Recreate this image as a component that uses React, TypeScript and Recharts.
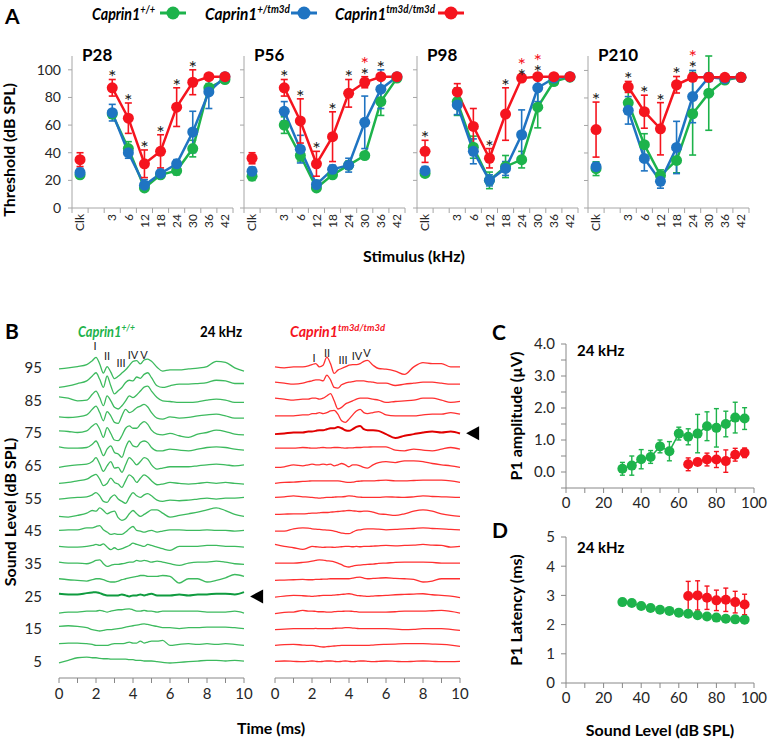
import React from "react";
import { LineChart, Line, XAxis, YAxis, ErrorBar, LabelList, ReferenceDot } from "recharts";

const FONT = "Lato, 'Open Sans', sans-serif";
const GREEN = "#1db34b";
const BLUE = "#1f74c2";
const RED = "#f5141e";
const AXIS = "#a6a6a6";
const INK = "#262626";

// ---------- A: ABR thresholds (dB SPL) ----------
const thrCats = ["Clk", "", "3", "6", "12", "18", "24", "30", "36", "42"];

const wtP28 = [24, null, 68, 43, 14.5, 24, 27, 43, 87, 93];
const wtP28E = [2, null, 3, 5, 2, 2, 3, 6, 3, 1];
const hetP28 = [25.7, null, 69, 40, 16.5, 25, 32, 55, 84, 95];
const hetP28E = [3, null, 6, 4, 4, 2, 3, 15, 12, 0];
const koP28 = [35, null, 87, 65, 32, 41, 73, 91, 95, 95];
const koP28E = [5, null, 6, 11, 10, 12, 14, 9, 0, 0];
const starsP28 = ["", "", "k", "k", "k", "k", "k", "k", "", ""];

const wtP56 = [23, null, 60, 38, 14.5, 24, 31, 38, 77, 94];
const wtP56E = [3, null, 6, 4, 2, 2, 3, 2, 10, 1];
const hetP56 = [26.6, null, 70, 42.6, 17, 28, 31, 62, 86, 95];
const hetP56E = [3, null, 7, 10, 3, 3, 5, 19, 14, 0];
const koP56 = [36, null, 87, 63, 32, 51.6, 83, 91, 95, 95];
const koP56E = [4, null, 6, 16, 9, 18, 10, 4, 0, 0];
const starsP56 = ["", "", "k", "k", "k", "k", "k", "kr", "k", ""];

const wtP98 = [25, null, 77, 44, 20, 30, 35, 73, 91.5, 94.7];
const wtP98E = [2, null, 10, 8, 6, 8, 6, 15, 2, 1];
const hetP98 = [27, null, 74.6, 41, 20, 28.6, 53, 87, 94, 95];
const hetP98E = [3, null, 7, 9, 4, 5, 18, 10, 2, 0];
const koP98 = [41, null, 84, 59, 36, 68, 94, 95, 95, 95];
const koP98E = [8, null, 6, 13, 7, 19, 0, 0, 0, 0];
const starsP98 = ["k", "", "", "", "k", "k", "kr", "kr", "", ""];

const wtP210 = [28.6, null, 76.5, 46, 23.7, 34.6, 68.5, 83.5, 93, 95];
const wtP210E = [5, null, 8, 8, 4, 9, 30, 27, 2, 0];
const hetP210 = [30, null, 71, 36, 19.4, 44, 81, 95, 94, 95];
const hetP210E = [3, null, 10, 9, 5, 19, 19, 3, 1, 0];
const koP210 = [57, null, 88, 70, 57.6, 89.6, 95, 95, 95, 95];
const koP210E = [20, null, 4, 12, 19, 6, 0, 0, 0, 0];
const starsP210 = ["k", "", "k", "k", "k", "k", "kr", "", "", ""];

const thrPanels = [
  { title: "P28", wt: wtP28, wtE: wtP28E, het: hetP28, hetE: hetP28E, ko: koP28, koE: koP28E, stars: starsP28 },
  { title: "P56", wt: wtP56, wtE: wtP56E, het: hetP56, hetE: hetP56E, ko: koP56, koE: koP56E, stars: starsP56 },
  { title: "P98", wt: wtP98, wtE: wtP98E, het: hetP98, hetE: hetP98E, ko: koP98, koE: koP98E, stars: starsP98 },
  { title: "P210", wt: wtP210, wtE: wtP210E, het: hetP210, hetE: hetP210E, ko: koP210, koE: koP210E, stars: starsP210 },
];
const thrAxisX = [72, 244, 417, 588];

// ---------- B: ABR waveforms at 24 kHz ----------
const waveTimes = [0, 0.5, 1, 1.5, 1.8, 2, 2.2, 2.4, 2.6, 2.8, 3, 3.2, 3.4, 3.6, 3.8, 4, 4.2, 4.4, 4.6, 4.8, 5, 5.3, 5.6, 6, 6.5, 7, 7.5, 8, 8.5, 9, 9.5, 10];
const waveLevels = [95, 90, 85, 80, 75, 70, 65, 60, 55, 50, 45, 40, 35, 30, 25, 20, 15, 10, 5];
const levelTicks = [5, 15, 25, 35, 45, 55, 65, 75, 85, 95];

const wtWaves = [
  [-0.3, 0, 0.4, 1.0, 2.2, 3.2, 1.2, -1.6, 0.4, -1.3, -3.3, -2.6, -1.6, -0.6, 0.7, 2.0, 2.2, 1.2, 2.4, 2.7, 2.0, 0.2, -1.0, -0.6, -0.6, -0.3, -0.1, 0.4, 2.0, 1.7, 0, -1.0],
  [-1.0, -0.5, 0.2, 1.0, 2.5, 3.5, 1.5, -1.0, 2.5, -0.5, -3.0, -2.0, -1.0, 0.5, 1.2, 1.0, 2.2, 1.8, 3.0, 3.5, 2.0, -0.5, -1.0, -0.5, 0, 0, 0.2, 0.5, 1.2, 1.0, 0.2, 0.2],
  [1.1, 0.7, -0.1, 0.1, 1.9, 2.9, 0.9, -1.6, 1.4, -0.1, -2.1, -2.6, -1.6, -0.1, 1.4, 0.9, 1.7, 2.9, 4.1, 4.4, 2.9, 0.9, -0.1, -0.3, -0.6, -0.6, -0.4, 0.1, 0.4, 0.1, -0.6, -0.6],
  [0, -0.2, 0, 0.6, 2.3, 3.3, 1.3, -1.2, 1.6, 0.3, -1.7, -2.0, 0.3, 2.3, 1.3, 1.8, 2.8, 3.3, 3.8, 3.0, 1.3, -0.4, -0.7, 0, -0.4, -0.2, 0.3, 0.6, 0.8, 0.3, -0.4, -0.4],
  [0.7, 0.5, 0.2, 0.7, 2.2, 2.9, 1.2, -1.3, 1.7, -0.1, -2.1, -2.3, -0.8, 1.5, 2.2, 1.5, 1.5, 2.7, 3.5, 2.7, 0.9, -0.3, -0.5, -0.1, -0.8, -1.3, -0.3, 0.2, 0.9, 0.5, -0.3, -0.5],
  [0.8, 0.4, 0.4, 0.6, 1.6, 2.6, 0.6, -1.9, 0.1, 1.1, -0.9, -1.4, -2.4, 0.6, 2.6, 1.1, 0.8, 2.1, 2.6, 2.1, 0.6, -0.4, -0.4, 0.1, -0.2, -0.4, 0.1, 0.6, 0.8, 0.6, 0.1, -0.2],
  [-0.5, 0, 0.3, 0.5, 1.3, 2.5, 0.5, -1.7, 0, 1.3, -0.7, -0.5, -2.0, 0.3, 2.5, 1.5, 0.3, 1.3, 2.5, 2.0, 0.3, -1.0, -0.7, -0.3, -0.3, -0.3, 0, 0.3, 0.5, 0.3, 0, 0.3],
  [-0.4, -0.1, 0.4, 0.9, 1.9, 2.4, 0.9, -1.1, -0.4, 1.2, -0.1, -0.6, -1.6, 0.4, 2.2, 1.4, -0.1, 1.2, 2.2, 1.6, 0.4, -0.8, -0.6, -0.1, -0.4, -0.6, -0.4, -0.1, -0.4, -0.1, -0.4, -0.6],
  [-0.2, 0.1, 0.3, 0.5, 1.1, 1.8, 0.8, -0.9, -1.2, 0.3, 1.1, -0.2, -0.9, -1.5, 0.3, 1.8, 0.8, 0.3, 1.1, 1.5, 0.8, -0.5, -0.9, -0.5, -0.7, -0.5, -0.2, 0.1, -0.2, 0.1, 0.1, 0.3],
  [-0.5, -0.7, -0.2, 0.5, 1.3, 1.1, 2.1, 1.3, 0.3, 0.8, 1.1, -0.9, -1.7, -1.2, 0.3, 1.3, 0.3, -0.5, 0.1, 0.8, 1.5, 1.5, 0.5, -0.7, -0.2, 0.3, 0.8, 1.5, 2.1, 1.3, 0.1, -0.5],
  [0.2, 0.4, 0.4, 1.0, 1.0, 1.4, 1.7, 0.4, -0.3, -1.0, -0.8, -1.0, -1.0, -0.3, 0.7, 1.4, 0.2, 0, -0.3, 0, 0.2, -0.3, 0, 0.4, 0.4, 0.2, 0.2, 0.4, 0.2, 0.2, 0, 0.2],
  [0.3, 0.1, 0.1, 0.3, 0.6, 0.9, 0.6, 1.1, 0.1, -0.7, -0.1, -0.7, -0.4, 0.1, 0.6, 1.3, 0.9, 0.6, 0.3, 0.9, 0.6, 0.1, -0.4, -0.9, 0.3, 0.3, 0.3, 0.6, 0.6, 0.3, 0.3, 0.1],
  [0.5, 0.2, 0.2, 0, 0.5, 1.0, 1.2, 0, -0.8, -0.5, -0.2, -0.2, 0, 0.2, 0.5, 0.5, 1.0, 0.8, 1.0, 0.8, 0.5, 0.8, 0.5, 0, -0.5, 0.2, 0.5, 0.5, 0.8, 0.5, 0, -0.2],
  [0.4, 0.1, -0.1, -0.3, 0.1, 0.4, 0.4, 0.1, -0.3, -0.6, -0.6, -0.3, 0.1, 0.4, 0.7, 0.9, 1.1, 1.4, 1.4, 1.1, 1.1, 1.1, 1.4, 1.1, -0.9, 0.4, 0.4, -0.6, -0.1, 0.7, 1.7, 1.1],
  [0.8, 0.6, 0.6, 1.0, 1.2, 1.3, 1.0, 0.6, 0.3, 0.3, 0.3, 0.3, 0.6, 0.3, 0, 0.3, 0.3, 0.6, 0.3, 0.6, 0.8, 0.3, 0.3, 0.3, 0.6, 0.3, 0.6, 0.6, 0.8, 0.8, 0.6, 1.3],
  [-0.1, 0.2, 0.2, 0.5, 0.5, 0.5, 0.7, 0.5, 0.2, 0.5, 0.7, 0.9, 0.9, 1.1, 1.2, 0.9, 0.5, 0.5, 0.7, 0.5, 0.5, 0.2, 0.5, 0.5, 0.5, 0.5, 0.5, 0.2, 0.2, 0.2, 0.5, -0.1],
  [0.8, 1.0, 0.8, 0.4, -0.2, -0.4, -0.6, -0.4, -0.2, -0.2, 0, 0.1, 0.3, 0.6, 0.8, 1.0, 1.2, 1.4, 1.6, 1.4, 1.1, 0.8, 0.4, 0.4, 0.1, 0.4, 0.4, 0.6, 0.6, 0.6, 0.4, 0.1],
  [0.5, 0.7, 0.7, 0.5, 0.3, 0, 0, 0, 0, 0.3, 0.5, 0.5, 0.5, 0.7, 1.0, 0.7, 0.7, 1.3, 0.7, 1.0, 1.3, 1.3, 1.5, 0, 0.3, 0.5, 0.3, 0.5, 0.3, 0.5, 0.3, 0],
  [-0.4, 0.4, 1.2, 1.4, 1.2, 1.2, 1.0, 0.9, 0.9, 0.8, 0.8, 0.8, 0.8, 0.8, 0.6, 0.6, 0.4, 0.4, 0.2, 0.2, 0.2, 0, -0.2, -0.4, -0.2, 0, 0.2, 0.4, 0.4, 0.2, 0.4, 0.2],
];

const koWaves = [
  [0.3, 0, 0.3, 0.3, 0.6, 1.0, 1.3, 0.3, 0.8, 3.3, 1.3, -1.7, -0.7, -0.2, 0.3, 0.8, 1.0, 1.0, 1.3, 2.0, 2.3, 0.8, -0.2, -0.4, -1.0, -2.0, 0.3, 1.6, 1.3, 1.3, 0.3, 0.3],
  [0.6, 0.3, 0, 0.3, 0.8, 1.0, 1.3, 1.3, 1.0, 2.8, 1.3, -1.0, -1.2, -0.2, 0.3, 0.6, 0.8, 1.0, 1.0, 1.0, 0.8, 0.6, 0.3, 0.3, -0.4, 0, 0.3, 0.6, 0.6, 0.3, 0, 0],
  [0.7, 0.4, 0.1, 0.4, 0.4, 0.7, 0.7, 0.4, 0.7, 1.4, 2.1, -0.1, -2.6, -2.1, -1.1, -0.6, -0.1, 0.4, 0.7, 0.7, 0.7, 0.4, 0.1, -0.6, -0.3, -0.1, 0.1, 0.7, 0.7, 0.1, -0.6, -0.3],
  [0.3, 0.3, 0.3, 0.6, 0.6, 1.0, 1.0, 1.3, 1.0, 1.3, 1.8, 2.0, 0.8, -1.2, -1.7, -0.7, 0.6, 1.8, 2.3, 1.3, 1.0, 1.3, 1.6, 0.6, 0.3, 0.3, 0.3, 0.6, 0.8, 0.8, 1.3, 0.8],
  [-0.3, -0.1, 0.2, 0.2, 0.5, 0.5, 0.7, 0.9, 0.9, 1.2, 1.5, 1.5, 1.9, 1.5, 0.9, 0.7, 1.2, 1.9, 2.2, 1.2, 0.9, 0.9, 0.7, -0.3, -1.5, -0.8, -0.3, 0.2, 0.5, 0.2, 0.5, -0.1],
  [0.4, 0.4, 0.4, 0.6, 0.5, 0.4, 0.4, 0.5, 0.6, 0.5, 0.5, 0.6, 0.6, 0.5, 0.4, 0.5, 0.5, 0.6, 0.6, 0.7, 0.7, 0.8, 0.8, 0.8, -0.2, -0.4, 0.1, -0.2, -0.4, 0.1, 0.6, 0.1],
  [-0.5, -0.3, 0.3, 0, 0.3, 0.5, 0.3, 0.3, 0.5, 0.3, 0.5, 0, 0.3, 0.7, 0.3, -0.3, 0.3, 0.3, 0, -0.5, -0.7, 0.3, 1.0, 1.3, 1.0, 1.5, 1.5, 1.3, 0.7, 0.3, 0, -0.5],
  [-0.4, -0.1, 0, 0.2, 0.3, 0.4, 0.4, 0.4, 0.4, 0.4, 0.4, 0.4, 0.4, 0.2, 0, -0.1, 0, 0.2, 0.3, 0.4, 0.4, 0.4, 0.5, 0.6, 0.4, 0.4, 0.5, 0.6, 0.6, 0.6, 0.4, -0.1],
  [0.3, 0.5, 0.8, 0.5, 0.4, 0.3, 0.2, 0.1, 0.2, 0.3, 0.3, 0.4, 0.5, 0.5, 0.6, 0.8, 0.7, 0.5, 0.4, 0.3, 0.3, 0.3, 0.3, 0.5, 0.4, 0.3, 0.5, 0.8, 0.6, 0.5, 0.4, 0.3],
  [0.1, 0.2, 0.3, 0.3, 0.4, 0.5, 0.5, 0.6, 0.7, 0.7, 0.8, 0.9, 1.0, 1.1, 1.2, 1.3, 1.2, 1.1, 1.0, 1.1, 1.1, 0.8, 0.3, 0.1, -0.2, 0.3, 1.1, 1.5, 1.1, 0.3, -0.2, -0.5],
  [0, 0, 0.7, 1.0, 0.9, 0.7, 0.6, 0.5, 0.4, 0.3, 0.2, 0, -0.3, -0.6, -0.8, -0.8, -0.3, 0.2, 0.4, 0.6, 0.7, 0.7, 0.6, 0.4, 0.5, 0.7, 0.8, 1.0, 0.8, 0.7, 0.5, 0.4],
  [0.9, 0.3, -0.1, -0.6, -0.1, 0.3, 0.2, 0.1, 0, 0.1, 0.1, 0, 0.1, 0.2, 0.3, 0.3, 0.2, 0.3, 0.2, 0.3, 0.3, 0.4, 0.5, 0.6, 0.5, 0.6, 0.7, 0.9, 0.7, 0.6, 0.1, 0.3],
  [0.2, 0.2, 0.2, 0.4, 0.6, 0.8, 1.0, 1.2, 1.1, 0.9, 0.8, 0.6, 0.2, -0.3, -0.8, -1.0, -0.7, -0.5, -0.4, -0.3, -0.2, -0.1, 0.1, 0.2, 0.4, 0.5, 0.5, 0.5, 0.4, 0.2, 0.2, 0.2],
  [-0.1, 0, 0.1, 0.2, 0.1, 0.1, 0.2, 0.2, 0.3, 0.3, 0.4, 0.4, 0.4, 0.4, 0.4, 0.4, 0.6, 0.8, 0.9, 0.6, 0.4, 0.5, 0.6, 0.7, 0.5, 0.4, 0.2, -0.6, -0.3, 0.4, 0.4, 0.4],
  [-0.2, 0.1, 0.3, 0.2, 0.1, 0, 0.1, 0.2, 0.3, 0.3, 0.3, 0.4, 0.5, 0.6, 0.7, 0.8, 0.6, 0.3, 0.2, 0.1, 0, 0.1, 0.2, 0.3, 0.5, 0.6, 0.7, 0.8, 0.5, 0.3, 0.1, -0.4],
  [-0.3, 0.1, 0.2, 0.7, 0.5, 0.5, 0.4, 0.3, 0.3, 0.2, 0.2, 0.3, 0.4, 0.4, 0.5, 0.5, 0.4, 0.3, 0.2, 0.2, 0.2, 0.2, 0.2, 0.2, 0.3, 0.5, 0.5, 0.5, 0.6, 0.7, 0.4, -0.1],
  [-0.2, 0, 0.1, 0.1, 0.1, 0.1, 0.2, 0.1, 0.1, 0.1, 0.1, 0.2, 0.3, 0.3, 0.4, 0.4, 0.3, 0.2, 0.1, 0.1, 0.1, 0.1, 0.1, 0.1, 0, -0.2, -0.1, 0.1, 0.1, 0.1, -0.1, -0.4],
  [0, 0.2, 0.3, 0.1, 0, 0, -0.2, -0.4, -0.5, -0.4, -0.3, -0.2, -0.1, 0, 0, 0, 0, 0, 0, 0, 0, 0.1, 0.2, 0.3, 0.4, 0.5, 0.5, 0.5, 0.4, 0.3, 0.1, -0.3],
  [0.1, 0.2, 0.1, 0, 0.1, 0.2, 0.1, 0, 0.1, 0.2, 0.2, 0.1, 0, 0.1, 0.2, 0.1, 0, 0.1, 0.2, 0.2, 0.1, 0, 0.1, 0.2, 0.1, 0, 0.1, 0.2, 0.1, 0, 0, 0.1],
];

const wtThreshold = 25;
const koThreshold = 75;

// ---------- C/D: P1 amplitude and latency vs level ----------
const ioLevels = [30, 35, 40, 45, 50, 55, 60, 65, 70, 75, 80, 85, 90, 95];
const wtAmp = [0.1, 0.2, 0.4, 0.47, 0.8, 0.65, 1.2, 1.1, 1.2, 1.43, 1.38, 1.5, 1.7, 1.67];
const wtAmpE = [0.2, 0.3, 0.3, 0.2, 0.2, 0.3, 0.2, 0.25, 0.6, 0.45, 0.6, 0.4, 0.48, 0.34];
const koAmp = [null, null, null, null, null, null, null, 0.24, 0.31, 0.39, 0.39, 0.34, 0.54, 0.6];
const koAmpE = [null, null, null, null, null, null, null, 0.2, 0.1, 0.2, 0.25, 0.35, 0.2, 0.15];
const wtLat = [2.77, 2.74, 2.64, 2.57, 2.51, 2.47, 2.41, 2.37, 2.32, 2.28, 2.24, 2.2, 2.18, 2.17];
const wtLatE = [0.03, 0.03, 0.03, 0.03, 0.03, 0.03, 0.03, 0.03, 0.03, 0.03, 0.03, 0.03, 0.03, 0.03];
const koLat = [null, null, null, null, null, null, null, 2.98, 3.0, 2.92, 2.83, 2.85, 2.77, 2.69];
const koLatE = [null, null, null, null, null, null, null, 0.5, 0.5, 0.4, 0.35, 0.4, 0.37, 0.35];

const tickStyle = { fontSize: 15, fill: INK, fontFamily: FONT };

function ThrTick(props: any) {
  const { x, y, payload } = props;
  const v = payload.value;
  if (!Number.isInteger(v)) return <line x1={x} y1={y} x2={x} y2={y + 5} stroke={AXIS} />;
  return (
    <text x={x} y={y + 6} transform={`rotate(-90 ${x} ${y + 6})`} textAnchor="end" dy="0.35em"
      fontSize={12} fill={INK} fontFamily={FONT}>
      {thrCats[v]}
    </text>
  );
}

// black asterisk above the highest error bar; a red one stacked on top where marked "r"
function renderStar(props: any) {
  const { x, y, value } = props;
  if (!value || y == null || isNaN(y)) return null;
  if (!value.includes("r")) {
    return (
      <text x={x} y={y + 5} fontFamily={FONT} fontSize={20} textAnchor="middle" fill="#222">*</text>
    );
  }
  return (
    <text x={x} y={y - 6} fontFamily={FONT} fontSize={20} textAnchor="middle">
      <tspan fill={RED}>*</tspan>
      <tspan x={x} dy={11} fill="#222">*</tspan>
    </text>
  );
}

function ThresholdPanel({ p, axisX, first }: any) {
  const rows = thrCats.map((c, i) => {
    const row: any = {
      x: i, wt: p.wt[i], wtE: p.wtE[i], het: p.het[i], hetE: p.hetE[i], ko: p.ko[i], koE: p.koE[i], star: p.stars[i],
    };
    if (p.stars[i]) row.starY = Math.max(p.wt[i] + p.wtE[i], p.het[i] + p.hetE[i], p.ko[i] + p.koE[i]);
    return row;
  });
  const xTicks: number[] = [];
  thrCats.forEach((c, i) => xTicks.push(i - 0.5, i));
  xTicks.push(thrCats.length - 0.5);
  const series = [
    { key: "wt", color: GREEN },
    { key: "het", color: BLUE },
    { key: "ko", color: RED },
  ];
  return (
    <div style={{ position: "absolute", left: axisX - 50, top: 40 }}>
      <LineChart width={217} height={213} data={rows} margin={{ top: 16, right: 6, bottom: 5, left: 0 }}>
        <XAxis type="number" dataKey="x" domain={[-0.5, 9.5]} ticks={xTicks} interval={0} tick={<ThrTick />}
          tickLine={false} tickSize={0} tickMargin={0} axisLine={{ stroke: AXIS }} height={40} />
        <YAxis type="number" domain={[0, 110]} ticks={[0, 20, 40, 60, 80, 100]} width={50} tickSize={4}
          tickMargin={7} tickLine={{ stroke: AXIS }} axisLine={{ stroke: AXIS }}
          tick={{ fontSize: 14, fill: INK, fontFamily: FONT }} tickFormatter={(v: number) => (first ? String(v) : "")} />
        {series.map((s) => (
          <Line key={s.key} dataKey={s.key} stroke={s.color} strokeWidth={2.5}
            dot={{ r: 5.5, fill: s.color, stroke: s.color, strokeWidth: 0 }} activeDot={false} isAnimationActive={false}>
            <ErrorBar dataKey={s.key + "E"} stroke={s.color} strokeWidth={1.6} width={3.5} direction="y" />
          </Line>
        ))}
        <Line dataKey="starY" stroke="none" dot={false} activeDot={false} isAnimationActive={false}>
          <LabelList dataKey="star" content={renderStar} />
        </Line>
      </LineChart>
    </div>
  );
}

function Arrow(props: any) {
  const { cx, cy } = props;
  return <polygon points={`${cx},${cy} ${cx + 13},${cy - 7} ${cx + 13},${cy + 7}`} fill="#000" />;
}

function WaveChart({ waves, color, boldColor, threshold, left, showY }: any) {
  const rows = waveTimes.map((t, j) => {
    const r: any = { t };
    waveLevels.forEach((L, i) => {
      r["L" + L] = L + waves[i][j];
    });
    return r;
  });
  const yW = showY ? 50 : 0;
  const padL = showY ? 0 : 15;
  return (
    <div style={{ position: "absolute", left: left - padL, top: 335 }}>
      <LineChart width={padL + yW + 185 + 32} height={373} data={rows}
        margin={{ top: 10, right: 32, bottom: 0, left: padL }}>
        <XAxis type="number" dataKey="t" domain={[0, 10]} ticks={[0, 1, 2, 3, 4, 5, 6, 7, 8, 9, 10]} interval={0}
          tickFormatter={(v: number) => (v % 2 === 0 ? String(v) : "")} tickSize={5} tickMargin={5}
          tickLine={{ stroke: "#888" }} axisLine={{ stroke: "#888" }} tick={tickStyle} height={30} />
        <YAxis type="number" domain={[0, 102]} ticks={levelTicks} hide={!showY} width={yW} axisLine={false}
          tickLine={false} tickSize={0} tickMargin={17} tick={tickStyle} />
        {waveLevels.map((L) => (
          <Line key={L} dataKey={"L" + L} type="monotone" stroke={L === threshold ? boldColor : color}
            strokeWidth={L === threshold ? 2 : 1.3} dot={false} activeDot={false} isAnimationActive={false} />
        ))}
        <ReferenceDot x={10.33} y={threshold} r={0} ifOverflow="visible" shape={<Arrow />} />
      </LineChart>
    </div>
  );
}

function IOChart({ top, height, domain, ticks, fmt, wt, wtE, ko, koE }: any) {
  const rows = ioLevels.map((lv, i) => ({ lv, wt: wt[i], wtE: wtE[i], ko: ko[i], koE: koE[i] }));
  return (
    <div style={{ position: "absolute", left: 521, top }}>
      <LineChart width={247} height={height} data={rows} margin={{ top: 10, right: 14, bottom: 0, left: 0 }}>
        <XAxis type="number" dataKey="lv" domain={[0, 100]} ticks={[0, 10, 20, 30, 40, 50, 60, 70, 80, 90, 100]}
          interval={0} tickFormatter={(v: number) => (v % 20 === 0 ? String(v) : "")} tickSize={5} tickMargin={4}
          tickLine={{ stroke: "#888" }} axisLine={{ stroke: "#888" }} tick={tickStyle} height={30} />
        <YAxis type="number" domain={domain} ticks={ticks} interval={0} tickFormatter={fmt} width={45} tickSize={5}
          tickMargin={6} tickLine={{ stroke: "#888" }} axisLine={{ stroke: "#888" }} tick={tickStyle} />
        <Line dataKey="wt" stroke={GREEN} strokeWidth={1.5} dot={{ r: 5, fill: GREEN, stroke: GREEN, strokeWidth: 0 }}
          activeDot={false} isAnimationActive={false}>
          <ErrorBar dataKey="wtE" stroke={GREEN} strokeWidth={1.4} width={2.5} direction="y" />
        </Line>
        <Line dataKey="ko" stroke={RED} strokeWidth={1.5} dot={{ r: 5, fill: RED, stroke: RED, strokeWidth: 0 }}
          activeDot={false} isAnimationActive={false}>
          <ErrorBar dataKey="koE" stroke={RED} strokeWidth={1.4} width={2.5} direction="y" />
        </Line>
      </LineChart>
    </div>
  );
}

function LegendItem({ x, w, lineX, label, sup, color }: any) {
  return (
    <g>
      <text x={x} y={20} fontSize={17} fontWeight="bold" fontStyle="italic" fill="#000" textLength={w}
        lengthAdjust="spacingAndGlyphs">
        {label}
        <tspan fontSize={11} dy={-7}>{sup}</tspan>
      </text>
      <line x1={lineX} y1={13} x2={lineX + 26} y2={13} stroke={color} strokeWidth={3} />
      <circle cx={lineX + 13} cy={13} r={6.5} fill={color} />
    </g>
  );
}

export default function App() {
  return (
    <div style={{ position: "absolute", left: 0, top: 0, width: 768, height: 740, background: "#fff", fontFamily: FONT }}>
      {thrPanels.map((p, i) => (
        <ThresholdPanel key={p.title} p={p} axisX={thrAxisX[i]} first={i === 0} />
      ))}
      <WaveChart waves={wtWaves} color="#3dba5e" boldColor="#0f9b3f" threshold={wtThreshold} left={9} showY />
      <WaveChart waves={koWaves} color="#ff3030" boldColor="#e00000" threshold={koThreshold} left={275} showY={false} />
      <IOChart top={334} height={184} domain={[-0.5, 4]} ticks={[-0.5, 0, 0.5, 1, 1.5, 2, 2.5, 3, 3.5, 4]}
        fmt={(v: number) => (Number.isInteger(v) ? v.toFixed(1) : "")} wt={wtAmp} wtE={wtAmpE} ko={koAmp} koE={koAmpE} />
      <IOChart top={527} height={186} domain={[0, 5]} ticks={[0, 1, 2, 3, 4, 5]} fmt={(v: number) => String(v)}
        wt={wtLat} wtE={wtLatE} ko={koLat} koE={koLatE} />

      <svg width={768} height={740} style={{ position: "absolute", left: 0, top: 0, pointerEvents: "none" }}
        fontFamily={FONT}>
        <text x={5} y={24} fontSize={21} fontWeight="bold">A</text>
        <LegendItem x={92} w={63} lineX={160} label="Caprin1" sup="+/+" color={GREEN} />
        <LegendItem x={205} w={85} lineX={291} label="Caprin1" sup="+/tm3d" color={BLUE} />
        <LegendItem x={335} w={100} lineX={438} label="Caprin1" sup="tm3d/tm3d" color={RED} />

        {thrPanels.map((p, i) => (
          <text key={p.title} x={thrAxisX[i] + 10} y={61} fontSize={17} fontWeight="bold">{p.title}</text>
        ))}
        <text x={0} y={0} transform="translate(15 150) rotate(-90)" textAnchor="middle" fontSize={16} fontWeight="bold">
          Threshold (dB SPL)
        </text>
        <text x={414} y={262} textAnchor="middle" fontSize={16} fontWeight="bold">Stimulus (kHz)</text>

        <text x={5} y={339} fontSize={21} fontWeight="bold">B</text>
        <text x={78} y={337} fontSize={15} fontWeight="bold" fontStyle="italic" fill={GREEN} textLength={57}
          lengthAdjust="spacingAndGlyphs">
          Caprin1<tspan fontSize={10} dy={-6}>+/+</tspan>
        </text>
        <text x={200} y={337} fontSize={15} fontWeight="bold" textLength={42} lengthAdjust="spacingAndGlyphs">24 kHz</text>
        <text x={290} y={337} fontSize={15} fontWeight="bold" fontStyle="italic" fill={RED} textLength={95}
          lengthAdjust="spacingAndGlyphs">
          Caprin1<tspan fontSize={10} dy={-6}>tm3d/tm3d</tspan>
        </text>
        <g fontSize={11} textAnchor="middle" fill="#222">
          <text x={95} y={350}>I</text>
          <text x={107} y={360}>II</text>
          <text x={121} y={367}>III</text>
          <text x={133} y={359}>IV</text>
          <text x={144} y={359}>V</text>
          <text x={314} y={362}>I</text>
          <text x={327} y={357}>II</text>
          <text x={343} y={364}>III</text>
          <text x={357} y={360}>IV</text>
          <text x={367} y={357}>V</text>
        </g>
        <text x={0} y={0} transform="translate(16 512) rotate(-90)" textAnchor="middle" fontSize={16} fontWeight="bold">
          Sound Level (dB SPL)
        </text>
        <text x={271} y={734} textAnchor="middle" fontSize={16} fontWeight="bold">Time (ms)</text>

        <text x={492} y={340} fontSize={21} fontWeight="bold">C</text>
        <text x={577} y={356} fontSize={15} fontWeight="bold">24 kHz</text>
        <text x={0} y={0} transform="translate(522 416) rotate(-90)" textAnchor="middle" fontSize={16} fontWeight="bold">
          P1 amplitude (µV)
        </text>
        <text x={492} y={538} fontSize={21} fontWeight="bold">D</text>
        <text x={577} y={553} fontSize={15} fontWeight="bold">24 kHz</text>
        <text x={0} y={0} transform="translate(522 610) rotate(-90)" textAnchor="middle" fontSize={16} fontWeight="bold">
          P1 Latency (ms)
        </text>
        <text x={660} y={736} textAnchor="middle" fontSize={16} fontWeight="bold">Sound Level (dB SPL)</text>
      </svg>
    </div>
  );
}
